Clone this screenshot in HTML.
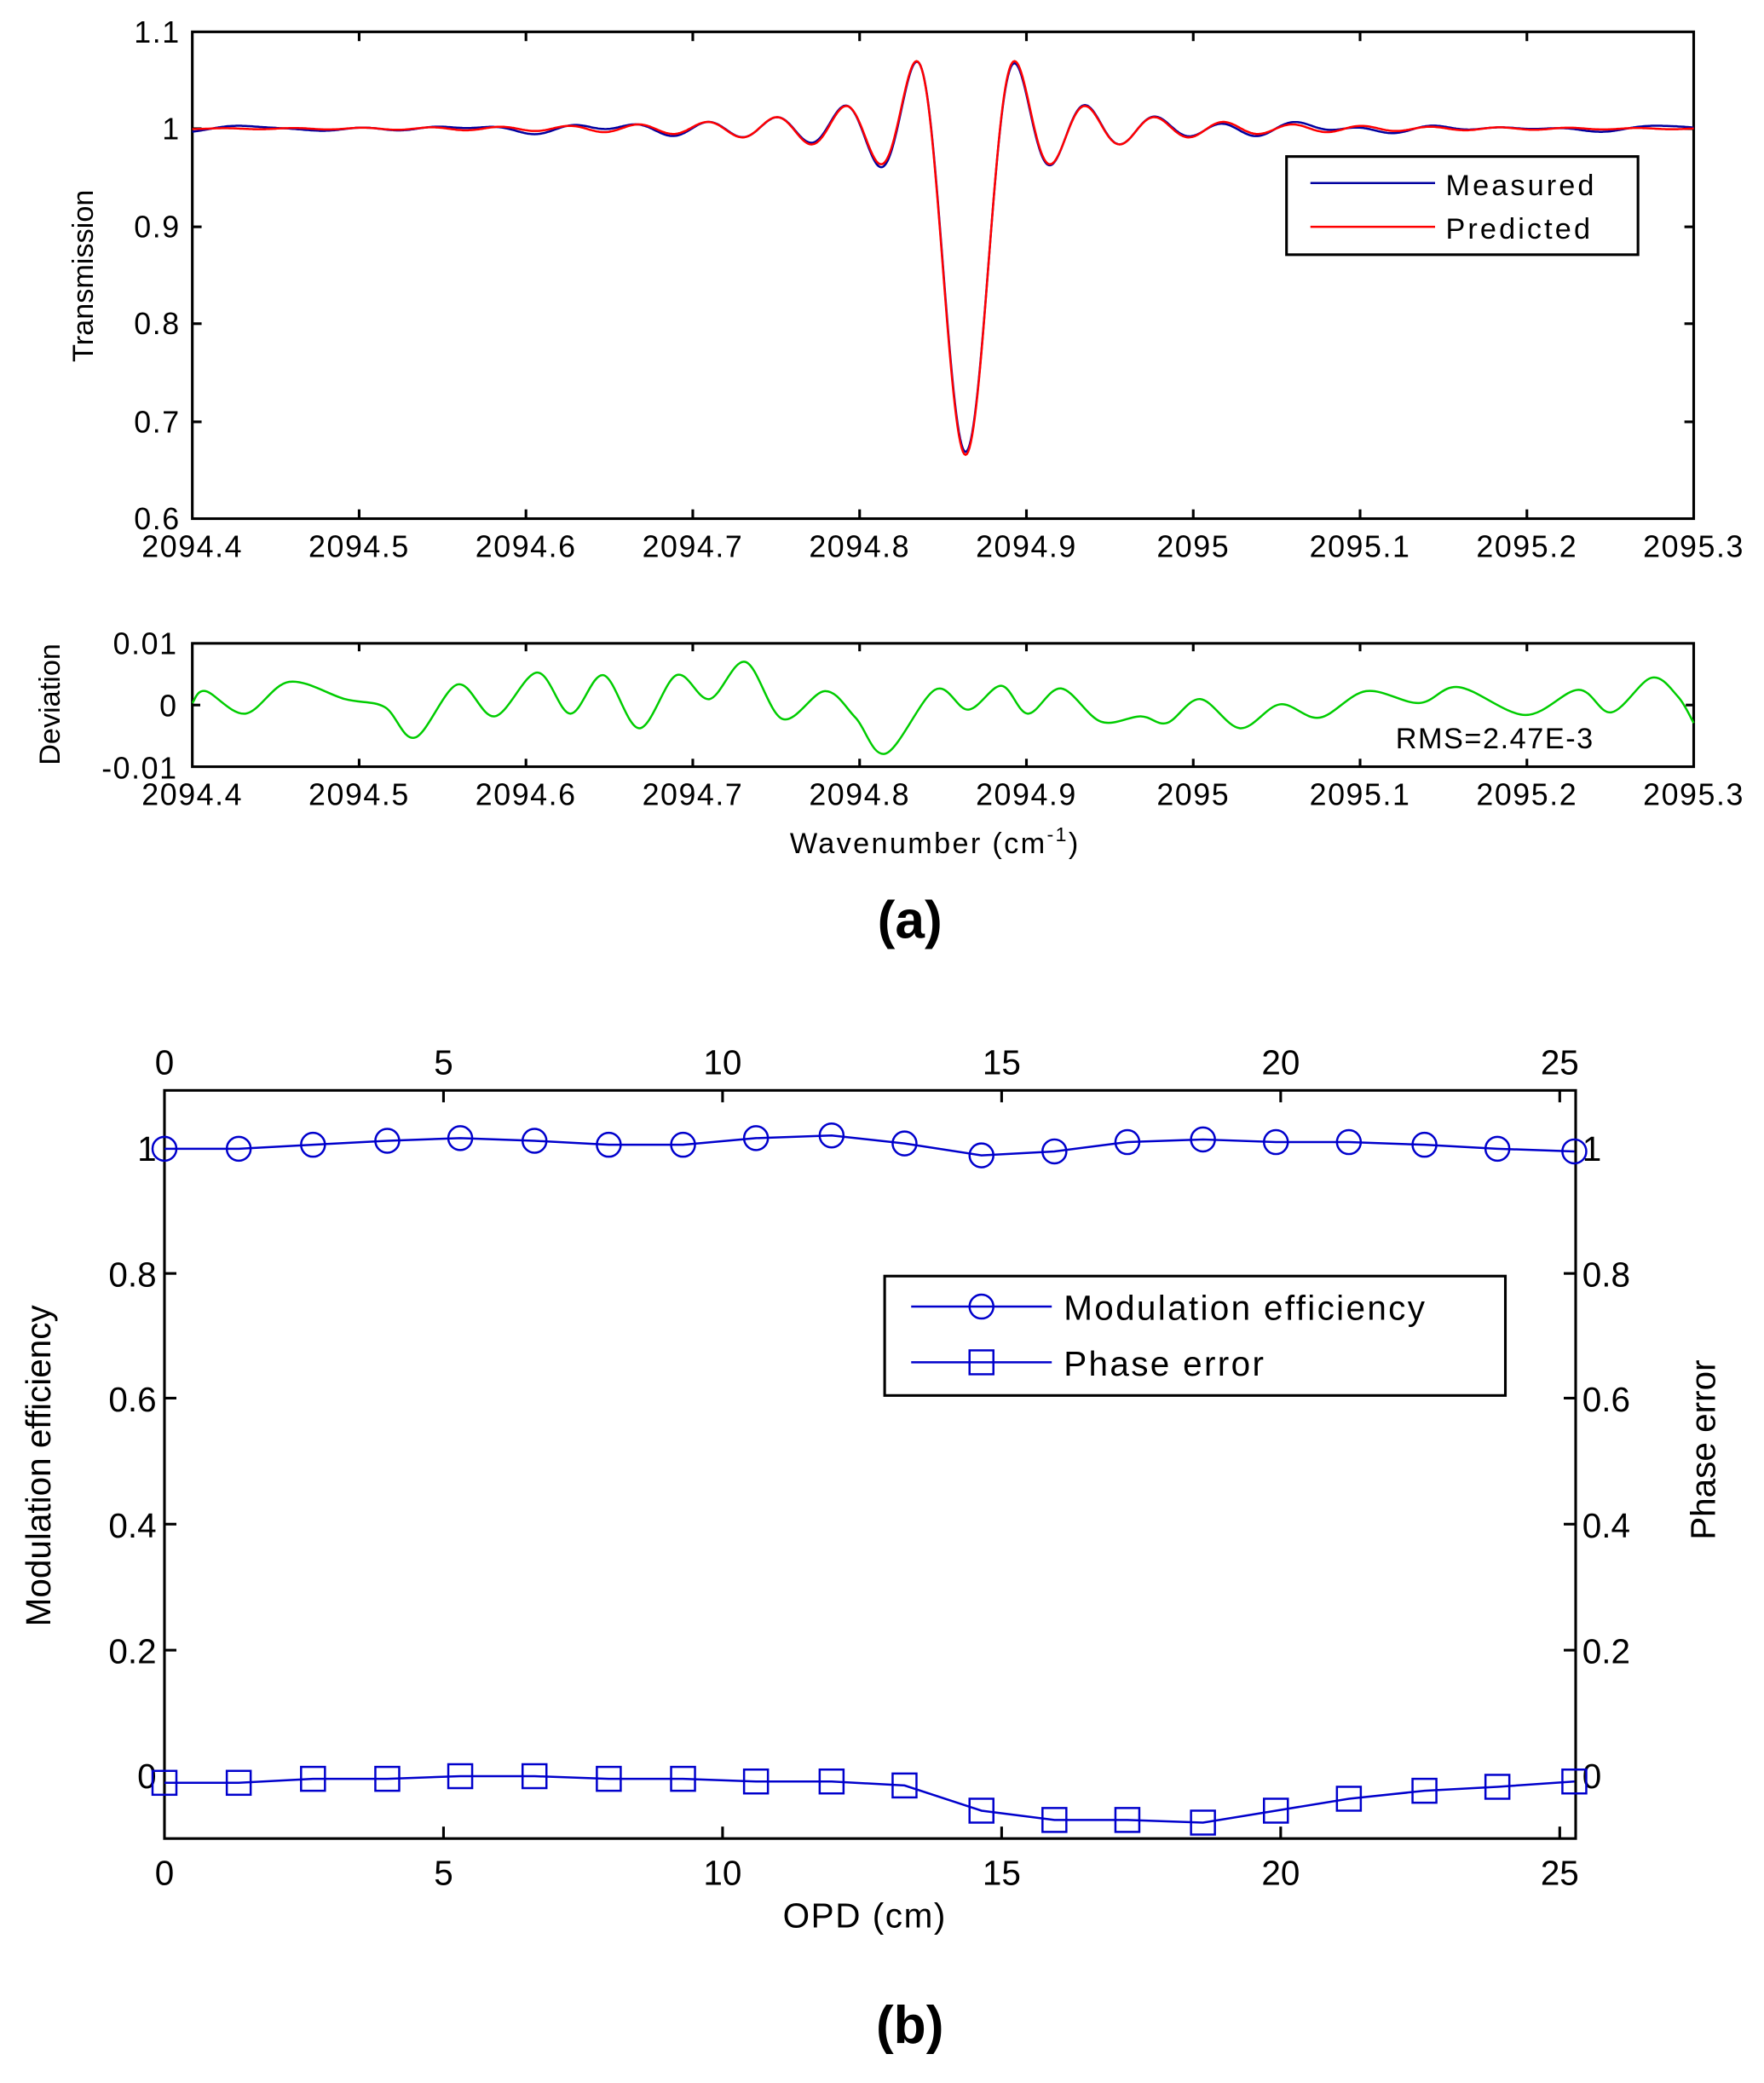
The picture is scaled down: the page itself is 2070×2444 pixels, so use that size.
<!DOCTYPE html>
<html><head><meta charset="utf-8"><style>
html,body{margin:0;padding:0;background:#fff;width:2070px;height:2444px;overflow:hidden}
svg{display:block}
text{font-family:"Liberation Sans",sans-serif;fill:#000}
</style></head><body>
<svg id="s" width="2070" height="2444" viewBox="0 0 1330 1570.3" xmlns="http://www.w3.org/2000/svg">
<rect width="1330" height="1571" fill="#fff"/>
<g id="g"></g>
<!-- top plot -->
<rect x="145" y="24" width="1132" height="367" fill="none" stroke="#000" stroke-width="2"/>
<g font-size="23" text-anchor="end" letter-spacing="1">
<text x="136" y="32">1.1</text><text x="136" y="105">1</text><text x="136" y="179">0.9</text>
<text x="136" y="252">0.8</text><text x="136" y="326">0.7</text><text x="136" y="399">0.6</text>
</g>
<text font-size="22" transform="translate(70,208) rotate(-90)" text-anchor="middle">Transmission</text>
<g id="tx" font-size="23" text-anchor="middle" letter-spacing="1"></g>
<path id="pm" fill="none" stroke="#0000a0" stroke-width="1.6"/>
<path id="pp" fill="none" stroke="#ff0000" stroke-width="1.6"/>
<rect x="970" y="118" width="265" height="74" fill="#fff" stroke="#000" stroke-width="2"/>
<line x1="988" y1="138" x2="1082" y2="138" stroke="#0000a0" stroke-width="1.6"/>
<line x1="988" y1="171" x2="1082" y2="171" stroke="#ff0000" stroke-width="1.6"/>
<text x="1090" y="147" font-size="22" letter-spacing="2">Measured</text>
<text x="1090" y="180" font-size="22" letter-spacing="2">Predicted</text>
<!-- deviation plot -->
<rect x="145" y="485" width="1132" height="93" fill="none" stroke="#000" stroke-width="2"/>
<g font-size="23" text-anchor="end" letter-spacing="1">
<text x="134" y="493">0.01</text><text x="134" y="540">0</text><text x="134" y="587">-0.01</text>
</g>
<text font-size="22" transform="translate(45,531) rotate(-90)" text-anchor="middle">Deviation</text>
<g id="bx" font-size="23" text-anchor="middle" letter-spacing="1"></g>
<path id="pd" fill="none" stroke="#00cc00" stroke-width="1.6"/>
<text x="1202" y="564" font-size="22" text-anchor="end" letter-spacing="1">RMS=2.47E-3</text>
<text x="705" y="643" font-size="22" text-anchor="middle" letter-spacing="1.5">Wavenumber (cm<tspan font-size="15" dy="-9">-1</tspan><tspan dy="9">)</tspan></text>
<text x="686" y="707" font-size="40" font-weight="bold" text-anchor="middle" font-family="Liberation Serif">(a)</text>
<!-- bottom plot -->
<rect x="124" y="822" width="1064" height="564" fill="none" stroke="#000" stroke-width="2"/>
<g id="ob" font-size="26" text-anchor="middle"></g>
<g font-size="26" text-anchor="end">
<text x="118" y="875">1</text><text x="118" y="970">0.8</text><text x="118" y="1064">0.6</text>
<text x="118" y="1159">0.4</text><text x="118" y="1254">0.2</text><text x="118" y="1348">0</text>
</g>
<g font-size="26" text-anchor="start">
<text x="1193" y="875">1</text><text x="1193" y="970">0.8</text><text x="1193" y="1064">0.6</text>
<text x="1193" y="1159">0.4</text><text x="1193" y="1254">0.2</text><text x="1193" y="1348">0</text>
</g>
<text font-size="26" transform="translate(38,1105) rotate(-90)" text-anchor="middle">Modulation efficiency</text>
<text font-size="26" transform="translate(1293,1093) rotate(-90)" text-anchor="middle">Phase error</text>
<text x="652" y="1453" font-size="26" text-anchor="middle" letter-spacing="1">OPD (cm)</text>
<g id="ser"></g>
<rect x="667" y="962" width="468" height="90" fill="#fff" stroke="#000" stroke-width="2"/>
<line x1="687" y1="985" x2="793" y2="985" stroke="#0000cc" stroke-width="1.6"/>
<circle cx="740" cy="985" r="9" fill="none" stroke="#0000cc" stroke-width="1.6"/>
<line x1="687" y1="1027" x2="793" y2="1027" stroke="#0000cc" stroke-width="1.6"/>
<rect x="731" y="1018" width="18" height="18" fill="none" stroke="#0000cc" stroke-width="1.6"/>
<text x="802" y="995" font-size="26" letter-spacing="1.5">Modulation efficiency</text>
<text x="802" y="1037" font-size="26" letter-spacing="1.5">Phase error</text>
<text x="686" y="1540" font-size="40" font-weight="bold" text-anchor="middle" font-family="Liberation Serif">(b)</text>
</svg>
<script>
var NS="http://www.w3.org/2000/svg";
function el(p,t,a,txt){var e=document.createElementNS(NS,t);for(var k in a)e.setAttribute(k,a[k]);if(txt!==undefined)e.textContent=txt;p.appendChild(e);return e;}
var labs=["2094.4","2094.5","2094.6","2094.7","2094.8","2094.9","2095","2095.1","2095.2","2095.3"];
var g=document.getElementById("g"),tx=document.getElementById("tx"),bx=document.getElementById("bx");
for(var i=0;i<10;i++){var x=145+i*125.78;
el(tx,"text",{x:x,y:420},labs[i]);el(bx,"text",{x:x,y:607},labs[i]);
if(i>0&&i<9){el(g,"line",{x1:x,y1:24,x2:x,y2:31,stroke:"#000","stroke-width":2});el(g,"line",{x1:x,y1:391,x2:x,y2:384,stroke:"#000","stroke-width":2});
el(g,"line",{x1:x,y1:485,x2:x,y2:491,stroke:"#000","stroke-width":2});el(g,"line",{x1:x,y1:578,x2:x,y2:572,stroke:"#000","stroke-width":2});}}
[97,171,244,318].forEach(function(y){el(g,"line",{x1:145,y1:y,x2:152,y2:y,stroke:"#000","stroke-width":2});el(g,"line",{x1:1277,y1:y,x2:1270,y2:y,stroke:"#000","stroke-width":2});});
el(g,"line",{x1:145,y1:531.5,x2:151,y2:531.5,stroke:"#000","stroke-width":2});el(g,"line",{x1:1277,y1:531.5,x2:1271,y2:531.5,stroke:"#000","stroke-width":2});
function T(x){var u=(x-728)/26;var s=Math.abs(u)<1e-6?1:Math.sin(Math.PI*u)/(Math.PI*u);if(Math.abs(u)>1)s*=Math.exp(-(Math.abs(u)-1)/9);return 1-0.335*s;}
var pm="",pp="";
for(var x=145;x<=1277;x+=1){var t=T(x);var yp=97-(t-1)*734;var ym=yp+2.5*Math.sin(x/17)*Math.sin(x/90);
pp+=(x==145?"M":"L")+x+","+yp.toFixed(1);pm+=(x==145?"M":"L")+x+","+ym.toFixed(1);}
document.getElementById("pp").setAttribute("d",pp);document.getElementById("pm").setAttribute("d",pm);
var P=[[145,530],[155,521],[185,538],[218,514],[260,527],[290,533],[313,556],[345,516],[373,540],[405,507],[430,538],[455,509],[482,549],[510,509],[535,527],[562,499],[590,542],[622,521],[645,541],[668,568],[705,520],[730,535],[755,517],[775,538],[800,519],[830,544],[860,540],[880,545],[905,527],[935,549],[965,531],[995,541],[1030,521],[1070,530],[1100,518],[1150,539],[1190,520],[1215,537],[1245,511],[1265,525],[1277,545]];
var d="M"+P[0][0]+","+P[0][1];
for(var i=0;i<P.length-1;i++){var p0=P[Math.max(0,i-1)],p1=P[i],p2=P[i+1],p3=P[Math.min(P.length-1,i+2)];
d+="C"+(p1[0]+(p2[0]-p0[0])/6).toFixed(1)+","+(p1[1]+(p2[1]-p0[1])/6).toFixed(1)+" "+(p2[0]-(p3[0]-p1[0])/6).toFixed(1)+","+(p2[1]-(p3[1]-p1[1])/6).toFixed(1)+" "+p2[0]+","+p2[1];}
document.getElementById("pd").setAttribute("d",d);
var ob=document.getElementById("ob");
for(var k=0;k<=5;k++){var x=124+k*5*42.08;el(ob,"text",{x:x,y:810},""+k*5);el(ob,"text",{x:x,y:1421},""+k*5);
if(k>0){el(g,"line",{x1:x,y1:822,x2:x,y2:831,stroke:"#000","stroke-width":2});el(g,"line",{x1:x,y1:1386,x2:x,y2:1377,stroke:"#000","stroke-width":2});}}
[960,1054,1149,1244].forEach(function(y){el(g,"line",{x1:124,y1:y,x2:133,y2:y,stroke:"#000","stroke-width":2});el(g,"line",{x1:1188,y1:y,x2:1179,y2:y,stroke:"#000","stroke-width":2});});
var xs=[124,180,236,292,347,403,459,515,570,627,682,740,795,850,907,962,1017,1074,1129,1187];
var m=[866,866,863,860,858,860,863,863,858,856,862,871,868,861,859,861,861,863,866,868];
var ph=[1344,1344,1341,1341,1339,1339,1341,1341,1343,1343,1346,1365,1372,1372,1374,1365,1356,1350,1347,1343];
var ser=document.getElementById("ser");
var a="",b="";for(var i=0;i<20;i++){a+=(i?"L":"M")+xs[i]+","+m[i];b+=(i?"L":"M")+xs[i]+","+ph[i];}
el(ser,"path",{d:a,fill:"none",stroke:"#0000cc","stroke-width":1.6});el(ser,"path",{d:b,fill:"none",stroke:"#0000cc","stroke-width":1.6});
for(var i=0;i<20;i++){el(ser,"circle",{cx:xs[i],cy:m[i],r:9,fill:"none",stroke:"#0000cc","stroke-width":1.6});
el(ser,"rect",{x:xs[i]-9,y:ph[i]-9,width:18,height:18,fill:"none",stroke:"#0000cc","stroke-width":1.6});}
</script>
</body></html>
